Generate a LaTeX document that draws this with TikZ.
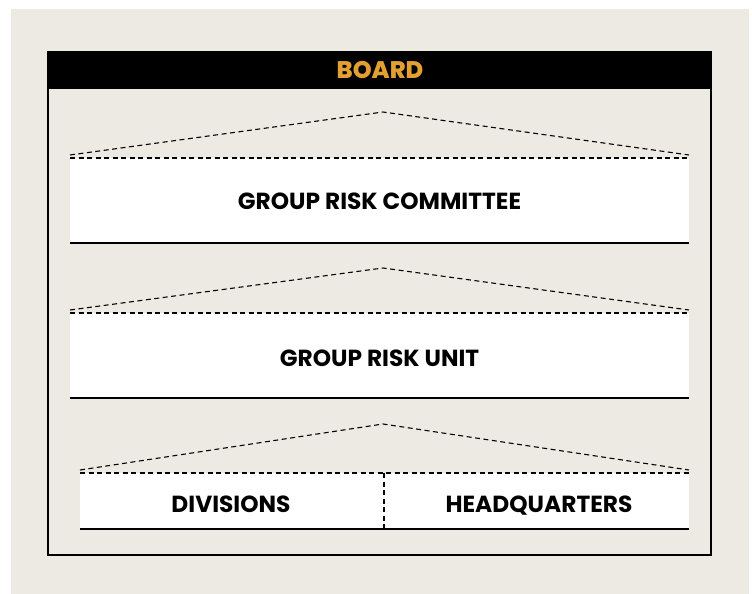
\documentclass[tikz,border=0pt]{standalone}
\usepackage{fontspec}
\setmainfont{Poppins}[UprightFont=* Bold]
\newfontfamily\boardfont{Poppins ExtraBold}
\definecolor{bg}{HTML}{ECEAE2}
\definecolor{gold}{HTML}{E2A032}
\tikzset{
  lbl/.style={font=\fontsize{23.3}{26}\selectfont, text=black, anchor=base, inner sep=0pt},
  tri/.style={dash pattern=on 5pt off 3.5pt, line width=1.1pt},
  whitebox/.style={fill=white, draw=none},
  baseline/.style={line width=2.2pt},
}
\begin{document}
\begin{tikzpicture}[x=1pt,y=-1pt]
\useasboundingbox (0,0) rectangle (752,594);
\fill[bg] (11,9) rectangle (749,594);
% board frame
\draw[line width=2pt] (48,52) rectangle (711,555);
\fill[black] (47,52) rectangle (712,89);
\node[font=\boardfont\fontsize{24}{26}\selectfont, text=gold, anchor=base, inner sep=0pt] (board) at (380,78.5) {BOARD};
% committee
\coordinate (t1l) at (70,155); \coordinate (t1a) at (383,112); \coordinate (t1r) at (689,155);
\draw[tri] (t1l) -- (t1a) -- (t1r);
\fill[whitebox] (70,158) rectangle (689,243);
\draw[tri] (70,158) -- (689,158);
\draw[baseline] (70,243) -- (689,243);
\node[lbl] (grc) at (379.5,209) {GROUP RISK COMMITTEE};
% unit
\coordinate (t2l) at (70,310); \coordinate (t2a) at (383,268); \coordinate (t2r) at (689,310);
\draw[tri] (t2l) -- (t2a) -- (t2r);
\fill[whitebox] (70,313) rectangle (689,398);
\draw[tri] (70,313) -- (689,313);
\draw[baseline] (70,398) -- (689,398);
\node[lbl] (gru) at (379.5,366) {GROUP RISK UNIT};
% divisions / HQ
\coordinate (t3l) at (80,470); \coordinate (t3a) at (383,424); \coordinate (t3r) at (689,470);
\draw[tri] (t3l) -- (t3a) -- (t3r);
\fill[whitebox] (80,473) rectangle (689,529);
\draw[tri] (80,473) -- (689,473);
\draw[tri] (384,473) -- (384,529);
\draw[baseline] (80,529) -- (689,529);
\node[lbl] (div) at (231,512) {DIVISIONS};
\node[lbl] (hq) at (539,512) {HEADQUARTERS};
\end{tikzpicture}
\end{document}
